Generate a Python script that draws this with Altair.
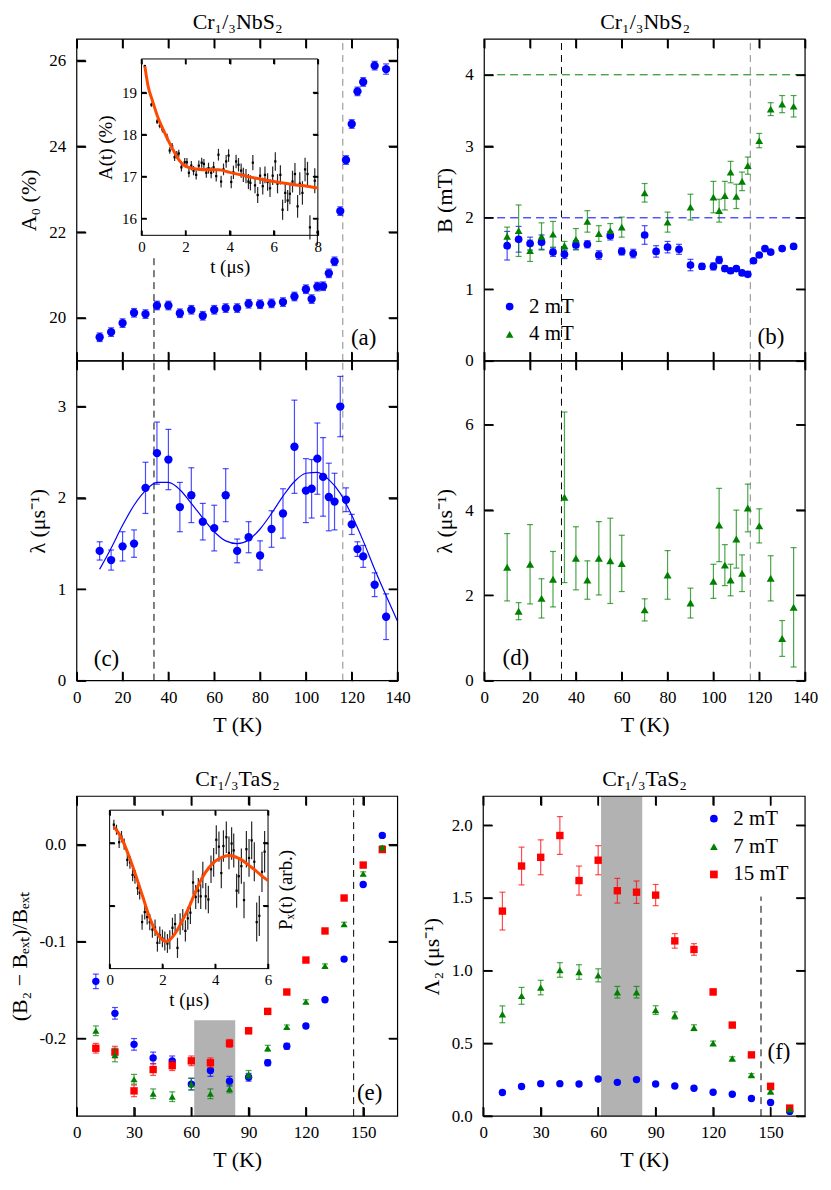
import altair as alt
import pandas as pd

FONT = "Liberation Serif"
BLUE = "#0000ff"
GREEN = "#008000"
RED = "#ff0000"
ORANGE = "#ff4800"
DASH_GRAY = "#8a8a8a"
BAND_GRAY = "#b2b2b2"

# ---------------- Cr1/3NbS2 : panels (a)-(d) ----------------
T_nb = [10, 15, 20, 25, 30, 35, 40, 45, 50, 55, 60, 65, 70, 75, 80, 85, 90, 95,
        100, 102.5, 105, 107.5, 110, 112.5, 115, 117.5, 120, 122.5, 125, 130, 135]
A0 = [19.55, 19.67, 19.88, 20.12, 20.09, 20.29, 20.29, 20.11, 20.19, 20.05, 20.19,
      20.23, 20.23, 20.33, 20.32, 20.34, 20.37, 20.50, 20.67, 20.44, 20.73, 20.74,
      21.04, 21.32, 22.49, 23.68, 24.52, 25.28, 25.50, 25.88, 25.80]
A0_err = [0.10, 0.10, 0.10, 0.10, 0.10, 0.10, 0.10, 0.10, 0.10, 0.10, 0.10,
          0.10, 0.10, 0.10, 0.10, 0.10, 0.10, 0.10, 0.10, 0.10, 0.10, 0.10,
          0.10, 0.10, 0.10, 0.10, 0.10, 0.10, 0.10, 0.10, 0.12]
lam_c = [1.42, 1.32, 1.47, 1.50, 2.11, 2.49, 2.42, 1.90, 2.03, 1.74, 1.67, 2.03,
         1.42, 1.57, 1.37, 1.66, 1.83, 2.56, 2.08, 2.10, 2.43, 2.23, 2.01, 1.96,
         3.00, 1.98, 1.71, 1.44, 1.36, 1.05, 0.70]
lam_c_err = [0.10, 0.11, 0.16, 0.15, 0.28, 0.34, 0.33, 0.27, 0.30, 0.20, 0.25, 0.29,
             0.13, 0.17, 0.16, 0.20, 0.27, 0.51, 0.35, 0.32, 0.39, 0.43, 0.37, 0.31,
             0.33, 0.13, 0.11, 0.08, 0.12, 0.13, 0.25]
fit_c_T = [10, 15, 20, 25, 30, 35, 40, 45, 50, 55, 60, 65, 70, 75, 80, 85, 90, 95,
           100, 105, 110, 115, 120, 125, 130, 135, 140]
fit_c = [1.22, 1.45, 1.70, 1.92, 2.08, 2.17, 2.17, 2.09, 1.94, 1.78, 1.63, 1.53,
         1.50, 1.54, 1.66, 1.83, 2.02, 2.18, 2.27, 2.28, 2.20, 2.05, 1.81, 1.53,
         1.22, 0.93, 0.65]
B2 = [1.61, 1.70, 1.64, 1.66, 1.52, 1.49, 1.62, 1.63, 1.48, 1.75, 1.53, 1.50, 1.76,
      1.53, 1.59, 1.56, 1.34, 1.32, 1.32, 1.41, 1.29, 1.26, 1.29, 1.23, 1.21, 1.40,
      1.48, 1.57, 1.52, 1.57, 1.60]
B2_err = [0.20, 0.18, 0.09, 0.10, 0.06, 0.06, 0.06, 0.05, 0.06, 0.06, 0.05, 0.06,
          0.13, 0.08, 0.08, 0.07, 0.08, 0.04, 0.05, 0.05, 0.04, 0.03, 0.03, 0.03,
          0.03, 0.03, 0.02, 0.02, 0.02, 0.02, 0.02]
T4 = [10, 15, 20, 25, 30, 35, 40, 45, 50, 55, 60, 70, 80, 90, 100, 102.5, 105,
      107.5, 110, 112.5, 115, 120, 125, 130, 135]
B4 = [1.74, 1.82, 1.54, 1.74, 1.77, 1.61, 1.70, 1.95, 1.78, 1.82, 1.87, 2.35, 1.94,
      2.15, 2.29, 2.10, 2.31, 2.64, 2.30, 2.51, 2.73, 3.08, 3.52, 3.59, 3.56]
B4_err = [0.13, 0.36, 0.15, 0.19, 0.18, 0.06, 0.15, 0.15, 0.11, 0.10, 0.14, 0.13,
          0.14, 0.18, 0.22, 0.16, 0.20, 0.15, 0.17, 0.13, 0.12, 0.10, 0.09, 0.12, 0.15]
lam_d = [2.66, 1.63, 2.73, 1.93, 2.38, 4.30, 2.87, 2.36, 2.87, 2.81, 2.75, 1.66,
         2.48, 1.82, 2.33, 3.65, 2.71, 2.36, 3.32, 2.52, 4.05, 3.63, 2.40, 0.99, 1.72]
lam_d_err = [0.79, 0.20, 0.93, 0.46, 0.65, 2.00, 0.74, 0.45, 0.86, 1.00, 0.66, 0.26,
             0.57, 0.35, 0.40, 0.86, 0.48, 0.37, 0.68, 0.43, 0.56, 0.40, 0.53, 0.42, 1.40]
T_crit_nb = [33.7, 116.1]
a_dash_top = 21.4
B_ext_lines = [2.0, 4.0]

# inset of (a): A(t)
ins_a_t = [0.15, 0.45, 0.71, 0.83, 0.95,
           1.16, 1.28, 1.39, 1.50, 1.60, 1.69, 1.81, 1.96,
           2.06, 2.15, 2.26, 2.36, 2.48, 2.60, 2.73, 2.83, 2.94,
           3.04, 3.16, 3.27, 3.39, 3.49, 3.61, 3.72, 3.84, 3.95,
           4.07, 4.17, 4.29, 4.40, 4.52, 4.62, 4.74, 4.85, 4.94,
           5.05, 5.15, 5.27, 5.38, 5.50, 5.60, 5.72, 5.83, 5.95,
           6.07, 6.17, 6.30, 6.40, 6.52, 6.63, 6.73, 6.85, 6.96,
           7.08, 7.18, 7.30, 7.42, 7.53, 7.64, 7.86, 7.98]
ins_a_A = [19.63, 18.71, 18.31, 18.21, 18.12,
           17.94, 17.62, 17.72, 17.46, 17.52, 17.55, 17.22, 17.34,
           17.34, 17.09, 17.26, 17.14, 17.04, 17.26, 17.33, 17.30, 17.09,
           17.20, 17.09, 17.22, 17.01, 17.52, 16.88, 17.17, 17.36, 17.50,
           16.87, 17.10, 17.36, 17.28, 17.14, 17.04, 17.01, 16.88, 16.85,
           17.33, 16.79, 16.56, 17.02, 16.77, 17.04, 16.87, 16.72, 17.02,
           17.36, 16.83, 17.04, 16.21, 16.61, 16.43, 16.59, 16.88, 17.06,
           16.29, 16.83, 16.61, 17.17, 17.06, 15.79, 16.90, 15.67]
ins_a_err = [0.03, 0.05, 0.06, 0.06, 0.07,
             0.08, 0.08, 0.08, 0.09, 0.09, 0.09, 0.10, 0.10,
             0.10, 0.11, 0.11, 0.11, 0.11, 0.12, 0.12, 0.12, 0.12,
             0.13, 0.13, 0.13, 0.13, 0.14, 0.14, 0.14, 0.15, 0.15,
             0.15, 0.16, 0.16, 0.16, 0.17, 0.17, 0.17, 0.18, 0.18,
             0.18, 0.19, 0.19, 0.20, 0.20, 0.20, 0.21, 0.21, 0.22,
             0.22, 0.23, 0.23, 0.24, 0.24, 0.25, 0.25, 0.26, 0.26,
             0.27, 0.27, 0.28, 0.28, 0.29, 0.29, 0.30, 0.30]
fit_a_t = [0.15, 0.3, 0.5, 0.75, 1.0, 1.25, 1.5, 1.75, 2.0, 2.5, 3.0, 3.5, 4.0,
           4.5, 5.0, 5.5, 6.0, 6.5, 7.0, 7.5, 8.0]
fit_a = [19.63, 19.15, 18.80, 18.40, 18.10, 17.82, 17.57, 17.36, 17.24, 17.18,
         17.16, 17.16, 17.10, 17.04, 16.98, 16.93, 16.88, 16.84, 16.80, 16.77, 16.73]

# ---------------- Cr1/3TaS2 : panels (e)-(f) ----------------
T_ta = [10, 20, 30, 40, 50, 60, 70, 80, 90, 100, 110, 120, 130, 140, 150, 160]
e_2mT = [-0.141, -0.174, -0.206, -0.220, -0.223, -0.247, -0.233, -0.244, -0.240,
         -0.225, -0.208, -0.187, -0.160, -0.118, -0.041, 0.0096]
e_2mT_err = [0.0075, 0.006, 0.006, 0.006, 0.005, 0.006, 0.006, 0.005, 0.004,
             0.003, 0.003, 0.002, 0.002, 0.002, 0.002, 0.002]
e_7mT = [-0.192, -0.217, -0.242, -0.257, -0.260, -0.247, -0.257, -0.252, -0.237,
         -0.210, -0.188, -0.162, -0.125, -0.082, -0.030, -0.003]
e_7mT_err = [0.005, 0.007, 0.005, 0.005, 0.005, 0.006, 0.005, 0.004, 0.004,
             0.003, 0.002, 0.002, 0.002, 0.002, 0.002, 0.002]
e_15mT = [-0.210, -0.214, -0.254, -0.232, -0.228, -0.223, -0.225, -0.205, -0.192,
          -0.172, -0.152, -0.119, -0.089, -0.055, -0.021, -0.005]
e_15mT_err = [0.005, 0.006, 0.006, 0.006, 0.005, 0.005, 0.005, 0.004, 0.003,
              0.003, 0.002, 0.002, 0.002, 0.002, 0.002, 0.002]
f_2mT = [0.162, 0.203, 0.223, 0.223, 0.221, 0.255, 0.232, 0.251, 0.221, 0.207,
         0.191, 0.164, 0.150, 0.121, 0.093, 0.032]
f_2mT_err = [0.010, 0.010, 0.010, 0.010, 0.010, 0.010, 0.010, 0.010, 0.008, 0.008,
             0.008, 0.006, 0.006, 0.006, 0.005, 0.005]
f_7mT = [0.700, 0.827, 0.884, 1.005, 0.991, 0.968, 0.852, 0.852, 0.729, 0.692,
         0.608, 0.501, 0.396, 0.282, 0.169, 0.046]
f_7mT_err = [0.058, 0.058, 0.050, 0.050, 0.050, 0.045, 0.040, 0.040, 0.030, 0.025,
             0.020, 0.015, 0.012, 0.010, 0.010, 0.010]
f_15mT = [1.41, 1.72, 1.78, 1.93, 1.62, 1.76, 1.55, 1.54, 1.52, 1.205, 1.146, 0.854,
          0.626, 0.421, 0.205, 0.055]
f_15mT_err = [0.13, 0.13, 0.12, 0.13, 0.10, 0.10, 0.085, 0.077, 0.073, 0.05, 0.04,
              0.02, 0.015, 0.012, 0.010, 0.010]
T_crit_ta = 145.0
band_ta = [61.5, 83.0]
e_band_top = -0.181
f_dash_top = 1.51

# inset of (e): P_x(t)
ins_e_t = [0.16, 0.26, 0.36, 0.45, 0.55, 0.67, 0.77, 0.87, 0.96,
           1.06, 1.14, 1.23, 1.33, 1.42, 1.52, 1.62, 1.72, 1.81, 1.90,
           2.00, 2.09, 2.19, 2.28, 2.38, 2.48, 2.57, 2.67, 2.77, 2.87, 2.96,
           3.06, 3.16, 3.26, 3.36, 3.45, 3.53, 3.64, 3.74, 3.84, 3.94,
           4.04, 4.14, 4.23, 4.31, 4.42, 4.52, 4.62, 4.70, 4.81, 4.89, 4.99,
           5.09, 5.18, 5.28, 5.38, 5.48, 5.57, 5.67, 5.77, 5.87]
ins_e_P = [1.29, 1.21, 1.01, 1.10, 0.98, 0.73, 0.69, 0.49, 0.46,
           0.28, 0.21, -0.26, -0.10, -0.18, -0.26, -0.38, -0.35, -0.59, -0.47,
           -0.52, -0.56, -0.60, -0.54, -0.35, -0.29, -0.67, -0.29, -0.22, -0.40, -0.20,
           -0.11, 0.37, 0.14, 0.24, 0.15, 0.49, 0.15, 0.10, 0.58, 0.69,
           1.05, 0.94, 0.52, 0.95, 1.09, 0.84, 0.99, 0.88, 0.24, 0.47, 0.63,
           0.09, 0.90, 0.76, 1.04, 0.70, -0.26, -0.16, 0.54, 0.86]
ins_e_err = [0.08, 0.08, 0.09, 0.09, 0.09, 0.10, 0.10, 0.10, 0.11,
             0.11, 0.11, 0.12, 0.12, 0.12, 0.13, 0.13, 0.13, 0.14, 0.14,
             0.14, 0.15, 0.15, 0.15, 0.16, 0.16, 0.16, 0.17, 0.17, 0.17, 0.18,
             0.18, 0.19, 0.19, 0.20, 0.20, 0.21, 0.21, 0.22, 0.22, 0.23,
             0.23, 0.24, 0.24, 0.25, 0.25, 0.26, 0.26, 0.27, 0.27, 0.28, 0.28,
             0.29, 0.29, 0.30, 0.30, 0.31, 0.31, 0.32, 0.32, 0.33]
fit_e_t = [0.16, 0.25, 0.5, 0.75, 1.0, 1.25, 1.5, 1.75, 2.0, 2.15, 2.25, 2.5, 2.75,
           3.0, 3.25, 3.5, 3.75, 4.0, 4.25, 4.5, 4.75, 5.0, 5.25, 5.5, 5.75, 6.0]
fit_e = [1.25, 1.21, 1.03, 0.77, 0.47, 0.15, -0.17, -0.41, -0.54, -0.57, -0.55,
         -0.43, -0.24, -0.03, 0.22, 0.44, 0.60, 0.71, 0.77, 0.80, 0.78, 0.73, 0.65,
         0.57, 0.48, 0.40]

# ---------------- layout (pixel boxes inside one canvas) ----------------
WT, HT = 731, 1081          # whole drawing area
TK = 9                      # main tick length
# box = (x_left, x_right, y_top, y_bottom)
BOX_A = (0, 322, 0, 323)
BOX_C = (0, 322, 323, 644)
BOX_B = (409, 731, 0, 323)
BOX_D = (409, 731, 323, 644)
BOX_E = (0, 322, 760, 1081)
BOX_F = (408, 731, 760, 1081)
BOX_AI = (65, 242, 20, 197)
BOX_EI = (33, 192, 774, 933)


def scales(box, xdom, ydom):
    x0, x1, yt, yb = box
    return (alt.Scale(domain=xdom, range=[x0, x1], nice=False, zero=False),
            alt.Scale(domain=ydom, range=[yb, yt], nice=False, zero=False))


def xq(field, s):
    return alt.X(field, type="quantitative", scale=s, axis=None)


def yq(field, s):
    return alt.Y(field, type="quantitative", scale=s, axis=None)


COMMON = dict(domain=False, grid=False, ticks=True, tickWidth=1.5, tickColor="black",
              tickOpacity=1, zindex=1,
              labelFont=FONT, labelColor="black", labelFlush=False, labelOverlap=False,
              titleFont=FONT, titleFontWeight="normal", titleColor="black")


def tick_marks(sx, sy, xdom, ydom, xvals, yvals, tl):
    dx = pd.DataFrame({"v": xvals})
    dy = pd.DataFrame({"v": yvals})
    st = dict(color="black", size=tl, thickness=1.5, opacity=1)
    return [
        alt.Chart(dx).mark_tick(orient="vertical", yOffset=-tl / 2, **st).encode(
            x=xq("v", sx), y=alt.Y(datum=ydom[0], scale=sy, axis=None)),
        alt.Chart(dx).mark_tick(orient="vertical", yOffset=tl / 2, **st).encode(
            x=xq("v", sx), y=alt.Y(datum=ydom[1], scale=sy, axis=None)),
        alt.Chart(dy).mark_tick(orient="horizontal", xOffset=tl / 2, **st).encode(
            y=yq("v", sy), x=alt.X(datum=xdom[0], scale=sx, axis=None)),
        alt.Chart(dy).mark_tick(orient="horizontal", xOffset=-tl / 2, **st).encode(
            y=yq("v", sy), x=alt.X(datum=xdom[1], scale=sx, axis=None)),
    ]


def axes(box, sx, sy, xdom, ydom, xvals, yvals, xlabels=True, ylabels=True,
         xtitle=None, ytitle=None, ttitle=None, rtitle=None, ylabelexpr=None,
         tl=TK, lfs=17, tfs=22, xlpad=9, ylpad=11, xtpad=9, ytpad=8, ttpad=5,
         rtpad=8, frame_fill=None):
    x0, x1, yt, yb = box
    dummy = pd.DataFrame({"x": [xdom[0]], "y": [ydom[0]]})
    c = dict(COMMON, tickSize=tl, labelFontSize=lfs, titleFontSize=tfs)
    bottom = alt.Axis(orient="bottom", offset=(yb - tl) - HT, values=xvals, labels=xlabels,
                      title=xtitle, labelPadding=xlpad, titlePadding=xtpad, **c)
    lkw = dict(orient="left", offset=-(x0 + tl), values=yvals, labels=ylabels,
               title=ytitle, labelPadding=ylpad, titlePadding=ytpad, **c)
    if ylabelexpr:
        lkw["labelExpr"] = ylabelexpr
    left = alt.Axis(**lkw)
    top = alt.Axis(orient="top", offset=-(yt + tl), values=xvals, labels=False,
                   title=ttitle, titlePadding=ttpad, **c)
    rkw = dict(orient="right", offset=(x1 - tl) - WT, values=yvals, labels=False, title=rtitle, **c)
    if rtitle:
        rkw.update(titleAngle=270, titleBaseline="top", titlePadding=rtpad)
    right = alt.Axis(**rkw)
    out = []
    if frame_fill:
        out.append(alt.Chart(dummy).mark_rect(fill=frame_fill, stroke="black", strokeWidth=1).encode(
            x=alt.X(datum=xdom[0], scale=sx, axis=None), x2=alt.X2(datum=xdom[1]),
            y=alt.Y(datum=ydom[0], scale=sy, axis=None), y2=alt.Y2(datum=ydom[1])))
    out.append(alt.Chart(dummy).mark_point(opacity=0).encode(
        x=alt.X("x:Q", scale=sx, axis=bottom), y=alt.Y("y:Q", scale=sy, axis=left)))
    out.append(alt.Chart(dummy).mark_point(opacity=0).encode(
        x=alt.X("x:Q", scale=sx, axis=top), y=alt.Y("y:Q", scale=sy, axis=right)))
    out += tick_marks(sx, sy, xdom, ydom, xvals, yvals, tl)
    return out


def frame(sx, sy, xdom, ydom):
    dummy = pd.DataFrame({"x": [xdom[0]]})
    return alt.Chart(dummy).mark_rect(fillOpacity=0, stroke="black", strokeWidth=1.2).encode(
        x=alt.X(datum=xdom[0], scale=sx, axis=None), x2=alt.X2(datum=xdom[1]),
        y=alt.Y(datum=ydom[0], scale=sy, axis=None), y2=alt.Y2(datum=ydom[1]))


def errbars(T, v, e, color, sx, sy, cap=6, width=1.2, opacity=0.7):
    df = pd.DataFrame({"T": T, "v": v, "e": e})
    base = alt.Chart(df).transform_calculate(lo="datum.v - datum.e", hi="datum.v + datum.e")
    out = [base.mark_rule(color=color, strokeWidth=width, opacity=opacity).encode(
        x=xq("T", sx), y=yq("lo", sy), y2="hi:Q")]
    if cap:
        for f in ("lo", "hi"):
            out.append(base.mark_tick(orient="horizontal", color=color, size=cap,
                                      thickness=width, opacity=opacity).encode(
                x=xq("T", sx), y=yq(f, sy)))
    return out


def points(T, v, color, shape, size, sx, sy):
    df = pd.DataFrame({"T": T, "v": v})
    return alt.Chart(df).mark_point(filled=True, shape=shape, size=size, color=color,
                                    opacity=1, strokeWidth=0).encode(
        x=xq("T", sx), y=yq("v", sy))


def line(T, v, color, width, sx, sy):
    df = pd.DataFrame({"T": T, "v": v})
    return alt.Chart(df).mark_line(color=color, strokeWidth=width, interpolate="monotone").encode(
        x=xq("T", sx), y=yq("v", sy))


def vrule(xv, color, sx, sy, y0, y1):
    return alt.Chart(pd.DataFrame({"x": [xv]})).mark_rule(
        color=color, strokeWidth=1, strokeDash=[7, 5]).encode(
        x=xq("x", sx), y=alt.Y(datum=y0, scale=sy, axis=None), y2=alt.Y2(datum=y1))


def hrule(yv, color, sx, sy, x0, x1):
    return alt.Chart(pd.DataFrame({"y": [yv]})).mark_rule(
        color=color, strokeWidth=1, strokeDash=[8, 5]).encode(
        y=yq("y", sy), x=alt.X(datum=x0, scale=sx, axis=None), x2=alt.X2(datum=x1))


def label(txt, xv, yv, sx, sy):
    return alt.Chart(pd.DataFrame({"t": [txt]})).mark_text(
        text=txt, font=FONT, fontSize=23, color="black").encode(
        x=alt.X(datum=xv, scale=sx, axis=None), y=alt.Y(datum=yv, scale=sy, axis=None))


def band(x0, x1, y0, y1, sx, sy):
    return alt.Chart(pd.DataFrame({"a": [x0]})).mark_rect(color=BAND_GRAY).encode(
        x=alt.X(datum=x0, scale=sx, axis=None), x2=alt.X2(datum=x1),
        y=alt.Y(datum=y0, scale=sy, axis=None), y2=alt.Y2(datum=y1))


def legend(box, dx, dy):
    return alt.Legend(orient="none", legendX=box[0] + dx, legendY=box[2] + dy, title=None,
                      labelFont=FONT, labelFontSize=21, labelColor="black", symbolSize=60,
                      rowPadding=6, labelOffset=9, padding=0, symbolStrokeWidth=0, labelLimit=0)


TITLE_NB = "Cr\u2081/\u2083NbS\u2082"
TITLE_TA = "Cr\u2081/\u2083TaS\u2082"
XT_NB = [0, 20, 40, 60, 80, 100, 120, 140]
XT_TA = [0, 30, 60, 90, 120, 150]
MU = "\u03bcs\u207b\u00b9"
TK_LABEL = "T (K)"

L = []

# ----- (a) -----
dxa, dya = [0, 140], [19, 26.5]
sxa, sya = scales(BOX_A, dxa, dya)
L += axes(BOX_A, sxa, sya, dxa, dya, XT_NB, [20, 22, 24, 26], xlabels=False,
          ytitle="A\u2080 (%)", ttitle=TITLE_NB)
L += [vrule(T_crit_nb[0], "black", sxa, sya, dya[0], a_dash_top),
      vrule(T_crit_nb[1], DASH_GRAY, sxa, sya, dya[0], dya[1])]
L += errbars(T_nb, A0, A0_err, BLUE, sxa, sya)
L += [points(T_nb, A0, BLUE, "circle", 70, sxa, sya)]
L += [label("(a)", 125.2, 19.53, sxa, sya), frame(sxa, sya, dxa, dya)]
dxi, dyi = [0, 8], [15.6, 19.8]
sxi, syi = scales(BOX_AI, dxi, dyi)
L += axes(BOX_AI, sxi, syi, dxi, dyi, [0, 2, 4, 6, 8], [16, 17, 18, 19],
          xtitle="t (\u03bcs)", ytitle="A(t) (%)", tl=5, lfs=15, tfs=19,
          xlpad=4, ylpad=5, xtpad=3, ytpad=6, frame_fill="white")
L += errbars(ins_a_t, ins_a_A, ins_a_err, "black", sxi, syi, cap=0, width=1.2, opacity=0.85)
L += [points(ins_a_t, ins_a_A, "black", "square", 5, sxi, syi),
      line(fit_a_t, fit_a, ORANGE, 3, sxi, syi)]

# ----- (c) -----
dxc, dyc = [0, 140], [0, 3.5]
sxc, syc = scales(BOX_C, dxc, dyc)
L += axes(BOX_C, sxc, syc, dxc, dyc, XT_NB, [0, 1, 2, 3], xtitle=TK_LABEL,
          ytitle="\u03bb (" + MU + ")")
L += [vrule(T_crit_nb[0], "black", sxc, syc, dyc[0], dyc[1]),
      vrule(T_crit_nb[1], DASH_GRAY, sxc, syc, dyc[0], dyc[1])]
L += [line(fit_c_T, fit_c, BLUE, 1.2, sxc, syc)]
L += errbars(T_nb, lam_c, lam_c_err, BLUE, sxc, syc)
L += [points(T_nb, lam_c, BLUE, "circle", 70, sxc, syc)]
L += [label("(c)", 13, 0.24, sxc, syc), frame(sxc, syc, dxc, dyc)]

# ----- (b) -----
dxb, dyb = [0, 140], [0, 4.5]
sxb, syb = scales(BOX_B, dxb, dyb)
L += axes(BOX_B, sxb, syb, dxb, dyb, XT_NB, [0, 1, 2, 3, 4], xlabels=False,
          ytitle="B (mT)", ttitle=TITLE_NB)
L += [vrule(T_crit_nb[0], "black", sxb, syb, dyb[0], dyb[1]),
      vrule(T_crit_nb[1], DASH_GRAY, sxb, syb, dyb[0], dyb[1]),
      hrule(B_ext_lines[0], BLUE, sxb, syb, dxb[0], dxb[1]),
      hrule(B_ext_lines[1], GREEN, sxb, syb, dxb[0], dxb[1])]
L += errbars(T_nb, B2, B2_err, BLUE, sxb, syb)
L += errbars(T4, B4, B4_err, GREEN, sxb, syb)
df_b = pd.concat([pd.DataFrame({"T": T_nb, "v": B2, "s": "2 mT"}),
                  pd.DataFrame({"T": T4, "v": B4, "s": "4 mT"})])
leg_b = legend(BOX_B, 15, 258)
L += [alt.Chart(df_b).mark_point(filled=True, opacity=1, size=60, strokeWidth=0).encode(
    x=xq("T", sxb), y=yq("v", syb),
    color=alt.Color("s:N", scale=alt.Scale(domain=["2 mT", "4 mT"], range=[BLUE, GREEN]), legend=leg_b),
    shape=alt.Shape("s:N", scale=alt.Scale(domain=["2 mT", "4 mT"], range=["circle", "triangle-up"]), legend=leg_b))]
L += [label("(b)", 125.1, 0.34, sxb, syb), frame(sxb, syb, dxb, dyb)]

# ----- (d) -----
dxd, dyd = [0, 140], [0, 7.5]
sxd, syd = scales(BOX_D, dxd, dyd)
L += axes(BOX_D, sxd, syd, dxd, dyd, XT_NB, [0, 2, 4, 6], xtitle=TK_LABEL,
          ytitle="\u03bb (" + MU + ")")
L += [vrule(T_crit_nb[0], "black", sxd, syd, dyd[0], dyd[1]),
      vrule(T_crit_nb[1], DASH_GRAY, sxd, syd, dyd[0], dyd[1])]
L += errbars(T4, lam_d, lam_d_err, GREEN, sxd, syd)
L += [points(T4, lam_d, GREEN, "triangle-up", 65, sxd, syd)]
L += [label("(d)", 13.8, 0.53, sxd, syd), frame(sxd, syd, dxd, dyd)]

# ----- (e) -----
dxe, dye = [0, 168], [-0.28, 0.05]
sxe, sye = scales(BOX_E, dxe, dye)
neg_fmt = "datum.value < 0 ? '-' + format(-datum.value, '.1f') : format(datum.value, '.1f')"
L += axes(BOX_E, sxe, sye, dxe, dye, XT_TA, [-0.2, -0.1, 0.0], xtitle=TK_LABEL,
          ytitle="(B\u2082 \u2212 B\u2091\u2093\u209c)/B\u2091\u2093\u209c", ttitle=TITLE_TA,
          ylabelexpr=neg_fmt)
L += [band(band_ta[0], band_ta[1], dye[0], e_band_top, sxe, sye),
      vrule(T_crit_ta, "black", sxe, sye, dye[0], dye[1])]
L += errbars(T_ta, e_2mT, e_2mT_err, BLUE, sxe, sye)
L += [points(T_ta, e_2mT, BLUE, "circle", 55, sxe, sye)]
L += errbars(T_ta, e_15mT, e_15mT_err, RED, sxe, sye)
L += [points(T_ta, e_15mT, RED, "square", 55, sxe, sye)]
L += errbars(T_ta, e_7mT, e_7mT_err, GREEN, sxe, sye)
L += [points(T_ta, e_7mT, GREEN, "triangle-up", 50, sxe, sye)]
L += [label("(e)", 153.4, -0.2567, sxe, sye), frame(sxe, sye, dxe, dye)]
dxei, dyei = [0, 6], [-1.0, 1.52]
sxei, syei = scales(BOX_EI, dxei, dyei)
L += axes(BOX_EI, sxei, syei, dxei, dyei, [0, 2, 4, 6], [0, 1], ylabels=False,
          xtitle="t (\u03bcs)", rtitle="P\u2093(t) (arb.)", tl=5, lfs=15, tfs=19,
          xlpad=4, xtpad=3, rtpad=8, frame_fill="white")
L += errbars(ins_e_t, ins_e_P, ins_e_err, "black", sxei, syei, cap=0, width=1.2, opacity=0.85)
L += [points(ins_e_t, ins_e_P, "black", "square", 5, sxei, syei),
      line(fit_e_t, fit_e, ORANGE, 3, sxei, syei)]

# ----- (f) -----
dxf, dyf = [0, 168], [0, 2.2]
sxf, syf = scales(BOX_F, dxf, dyf)
L += axes(BOX_F, sxf, syf, dxf, dyf, XT_TA, [0.0, 0.5, 1.0, 1.5, 2.0], xtitle=TK_LABEL,
          ytitle="\u039b\u2082 (" + MU + ")", ttitle=TITLE_TA,
          ylabelexpr="format(datum.value, '.1f')")
L += [band(band_ta[0], band_ta[1], dyf[0], dyf[1], sxf, syf),
      vrule(T_crit_ta, "black", sxf, syf, dyf[0], f_dash_top)]
L += errbars(T_ta, f_2mT, f_2mT_err, BLUE, sxf, syf)
L += errbars(T_ta, f_15mT, f_15mT_err, RED, sxf, syf)
L += errbars(T_ta, f_7mT, f_7mT_err, GREEN, sxf, syf)
df_f = pd.concat([pd.DataFrame({"T": T_ta, "v": f_2mT, "s": "2 mT"}),
                  pd.DataFrame({"T": T_ta, "v": f_15mT, "s": "15 mT"}),
                  pd.DataFrame({"T": T_ta, "v": f_7mT, "s": "7 mT"})])
leg_f = legend(BOX_F, 221, 12)
L += [alt.Chart(df_f).mark_point(filled=True, opacity=1, size=55, strokeWidth=0).encode(
    x=xq("T", sxf), y=yq("v", syf),
    color=alt.Color("s:N", scale=alt.Scale(domain=["2 mT", "7 mT", "15 mT"], range=[BLUE, GREEN, RED]), legend=leg_f),
    shape=alt.Shape("s:N", scale=alt.Scale(domain=["2 mT", "7 mT", "15 mT"], range=["circle", "triangle-up", "square"]), legend=leg_f))]
L += [label("(f)", 154.4, 0.44, sxf, syf), frame(sxf, syf, dxf, dyf)]

chart = alt.layer(*L).resolve_scale(
    x="independent", y="independent", color="independent", shape="independent"
).properties(
    width=WT, height=HT, padding={"left": 0, "top": 0, "right": 5, "bottom": 5}
).configure(font=FONT).configure_view(stroke="transparent", strokeWidth=0)

chart.save("out.html", embed_options={"renderer": "svg", "actions": False})
